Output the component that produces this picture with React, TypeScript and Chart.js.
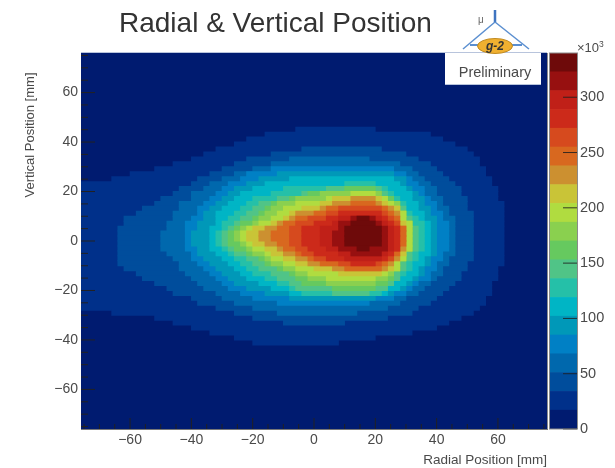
import React, { useEffect, useRef } from "react";
import { Chart, registerables } from "chart.js";

Chart.register(...registerables);

const BAND_COLORS = ["#001b70","#00308a","#004d9c","#0068ad","#0080c5","#0098b8","#00b5c5","#25c0a8","#50c487","#66c95f","#8ad04f","#b0dc40","#c9c437","#cc9030","#d8681f","#d64a1e","#cc2a1a","#c02018","#971010","#6e0a0a"];
const BAND_EDGES = [0,17,34,51,68,85,102,119,136,153,170,187,204,221,238,255,272,289,306,323,340];
const X_MAJOR = [-60,-40,-20,0,20,40,60];
const X_MINOR = [-75,-70,-65,-55,-50,-45,-35,-30,-25,-15,-10,-5,5,10,15,25,30,35,45,50,55,65,70,75];
const Y_MAJOR = [-60,-40,-20,0,20,40,60];
const Y_MINOR = [-75,-70,-65,-55,-50,-45,-35,-30,-25,-15,-10,-5,5,10,15,25,30,35,45,50,55,65,70,75];
const Z_TICKS = [0,50,100,150,200,250,300];

// lower edge (mm) of each 2 mm row that holds counts above the lowest band
const ROW_Y = [44,42,40,38,36,34,32,30,28,26,24,22,20,18,16,14,12,10,8,6,4,2,0,-2,-4,-6,-8,-10,-12,-14,-16,-18,-20,-22,-24,-26,-28,-30,-32,-34,-36,-38,-40,-42];
// for each row: left edge (mm) where band 1, 2, 3... begins
const LEFT_EDGES = [
[-6],[-16],[-22],[-26],[-32,-4],[-36,-14],[-40,-22,-8],[-46,-26,-14],[-52,-30,-20,-14],[-60,-34,-26,-22,-12],
[-66,-38,-30,-24,-18,-8],[-76,-40,-34,-28,-22,-16,10],[-76,-44,-36,-30,-26,-20,-10,4,10],
[-76,-46,-40,-32,-28,-24,-14,-4,-2,2,12],[-76,-50,-40,-34,-30,-26,-20,-12,-8,-6,4,6,12],
[-76,-52,-44,-36,-32,-28,-22,-18,-14,-12,-6,2,6,12],[-76,-56,-44,-38,-34,-30,-24,-20,-16,-14,-10,-4,2,4,8],
[-76,-58,-46,-38,-36,-32,-26,-22,-18,-16,-12,-8,-6,0,4,8],[-76,-62,-46,-40,-36,-32,-28,-24,-20,-18,-14,-10,-8,-6,-2,4,8,12,14],
[-76,-62,-48,-42,-38,-32,-30,-26,-24,-20,-18,-14,-12,-10,-6,0,6,8,12],[-76,-64,-48,-42,-38,-34,-30,-28,-26,-24,-22,-20,-16,-12,-8,-4,2,8,10],
[-76,-64,-50,-42,-40,-34,-32,-30,-28,-26,-24,-22,-18,-14,-8,-4,2,6,10],[-76,-64,-50,-42,-40,-34,-32,-30,-28,-26,-24,-22,-18,-14,-8,-4,2,6,10],
[-76,-64,-50,-42,-40,-34,-32,-30,-28,-24,-22,-20,-16,-12,-8,-4,2,6,10],[-76,-64,-50,-42,-38,-34,-30,-28,-26,-22,-20,-16,-12,-10,-6,-2,4,8,14],
[-76,-64,-48,-40,-38,-32,-28,-26,-22,-20,-16,-14,-10,-6,-4,0,8,12],[-76,-64,-46,-40,-36,-30,-26,-22,-18,-16,-14,-10,-6,-2,0,4,10],
[-76,-64,-44,-38,-34,-28,-24,-20,-16,-14,-10,-6,-2,2,8,12],[-76,-62,-44,-36,-32,-26,-22,-18,-12,-10,-6,0,6,10],
[-76,-58,-42,-34,-30,-24,-20,-14,-8,-6,-2,8],[-76,-56,-40,-32,-28,-22,-16,-12,-6,-2,4],[-76,-52,-38,-30,-26,-18,-12,-8,-4,4],
[-76,-48,-36,-28,-22,-14,-8,-6,6],[-76,-46,-32,-24,-16,-8,-4,6],[-76,-40,-30,-20,-8],[-76,-38,-26,-12],[-76,-32,-20],[-66,-26,-12],
[-52,-20],[-46,-10],[-40],[-34],[-26],[-20],
];
// for each row: right edge (mm) where band 1, 2, 3... ends
const RIGHT_EDGES = [
[20],[38],[42],[46],[50,22],[52,30],[54,34,18],[54,38,28],[56,40,32,26],[56,42,34,30,26],
[58,44,36,32,30,26],[58,46,38,34,30,28,20],[60,48,40,36,32,30,24,22,20],
[60,48,40,36,34,32,26,24,22,22,20],[60,50,42,38,36,32,28,26,26,24,24,22,20],
[62,50,42,40,36,34,30,28,28,28,26,24,22,20],[62,50,44,40,38,34,30,30,28,28,28,28,26,24,22],
[62,52,44,42,38,36,32,30,30,30,30,28,28,26,24,22],[62,52,46,42,40,36,34,32,30,30,30,28,28,28,26,24,22,20,18],
[62,52,46,44,40,38,36,32,32,32,32,30,28,28,28,26,24,22,20],[62,52,46,44,40,38,36,34,32,32,32,30,30,30,28,28,26,24,22],
[62,52,46,44,40,38,36,34,32,32,32,30,30,30,28,28,26,24,22],[62,52,46,44,40,38,36,34,32,32,32,30,30,30,28,28,26,24,22],
[62,52,46,44,40,38,36,34,32,32,32,30,30,30,28,28,26,24,22],[62,52,46,44,40,38,36,34,32,32,32,30,30,28,28,28,26,24,18],
[62,52,46,42,40,38,34,32,30,30,30,30,28,28,26,26,24,22],[62,52,44,42,38,36,34,32,30,30,30,28,28,26,26,24,22],
[62,50,44,40,38,36,32,30,28,28,28,26,26,24,22,20],[60,50,42,40,36,34,32,30,28,28,28,26,24,22],
[60,48,42,38,36,34,30,28,26,26,24,22],[60,48,40,38,34,32,28,28,26,24,20],[58,46,38,34,32,30,26,26,24,20],
[58,44,36,32,30,28,24,24,20],[58,42,34,30,26,24,22,18],[56,40,30,26,20],[56,38,28,18],[54,34,24],[52,32,14],
[48,24],[44,10],[40],[32],[20],[8],
];

const FONT = "'Liberation Sans', Arial, sans-serif";
const TEXT = "#4a4a4a";

const innerTicks = {
  id: "innerTicks",
  afterDatasetsDraw(chart: any) {
    const { ctx, chartArea: a, scales } = chart;
    ctx.save();
    ctx.strokeStyle = "#222";
    ctx.lineWidth = 1;
    const line = (x0: number, y0: number, x1: number, y1: number) => {
      ctx.beginPath(); ctx.moveTo(x0, y0); ctx.lineTo(x1, y1); ctx.stroke();
    };
    X_MAJOR.forEach((v) => { const p = scales.x.getPixelForValue(v); line(p, a.bottom, p, a.bottom - 11); });
    X_MINOR.forEach((v) => { const p = scales.x.getPixelForValue(v); line(p, a.bottom, p, a.bottom - 5); });
    Y_MAJOR.forEach((v) => { const p = scales.y.getPixelForValue(v); line(a.left, p, a.left + 14, p); });
    Y_MINOR.forEach((v) => { const p = scales.y.getPixelForValue(v); line(a.left, p, a.left + 7, p); });
    ctx.strokeStyle = "#8a8a8a";
    line(a.right + 0.5, a.top, a.right + 0.5, a.bottom);
    ctx.strokeStyle = "#b8c4dc";
    line(a.left, a.top - 0.5, a.right, a.top - 0.5);
    // vertical axis title, which sits off-centre along the axis
    ctx.translate(30, 135);
    ctx.rotate(-Math.PI / 2);
    ctx.font = `13px ${FONT}`;
    ctx.fillStyle = TEXT;
    ctx.textAlign = "center";
    ctx.textBaseline = "middle";
    ctx.fillText("Vertical Position [mm]", 0, 0);
    ctx.restore();
  },
};

const paletteTicks = {
  id: "paletteTicks",
  afterDatasetsDraw(chart: any) {
    const { ctx, chartArea: a, scales } = chart;
    ctx.save();
    ctx.strokeStyle = "rgba(30,30,30,0.85)";
    Z_TICKS.forEach((v) => {
      const p = scales.y.getPixelForValue(v);
      ctx.beginPath(); ctx.moveTo(a.right, p); ctx.lineTo(a.right - 14, p); ctx.stroke();
    });
    ctx.strokeStyle = "#8a8a8a";
    ctx.strokeRect(a.left - 0.5, a.top, a.right - a.left + 1, a.bottom - a.top);
    ctx.restore();
  },
};

const tickFont = { family: FONT, size: 14 };
const minus = (v: any) => (Number(v) < 0 ? "\u2212" + Math.abs(Number(v)) : String(v));

export default function App() {
  const mainRef = useRef<HTMLCanvasElement>(null);
  const barRef = useRef<HTMLCanvasElement>(null);

  useEffect(() => {
    document.body.style.margin = "0";
    const datasets: any[] = [
      { data: [{ y: 0, x: [-76, 76] }], backgroundColor: BAND_COLORS[0], barThickness: 376, order: 20 },
    ];
    for (let k = 1; k < BAND_COLORS.length; k++) {
      const data: any[] = [];
      ROW_Y.forEach((y, r) => {
        if (LEFT_EDGES[r].length >= k) data.push({ y: y + 1, x: [LEFT_EDGES[r][k - 1], RIGHT_EDGES[r][k - 1]] });
      });
      datasets.push({ data, backgroundColor: BAND_COLORS[k], barThickness: 5.3, order: 20 - k });
    }
    const main = new Chart(mainRef.current!, {
      type: "bar",
      data: { datasets },
      plugins: [innerTicks],
      options: {
        animation: false,
        responsive: false,
        indexAxis: "y",
        datasets: { bar: { grouped: false } },
        layout: { padding: { top: 53, right: 68, left: 0, bottom: 0 } },
        plugins: { legend: { display: false }, tooltip: { enabled: false } },
        scales: {
          x: {
            type: "linear", min: -76, max: 76,
            grid: { display: false, drawTicks: false },
            border: { color: "#777" },
            afterBuildTicks: (s: any) => { s.ticks = X_MAJOR.map((value) => ({ value })); },
            afterFit: (s: any) => { s.height = 39; },
            ticks: { color: TEXT, font: tickFont, maxRotation: 0, autoSkip: false, padding: 3, callback: minus },
            title: { display: true, text: "Radial Position [mm]", align: "end", color: TEXT, font: { family: FONT, size: 13.5 }, padding: { top: 0, bottom: 0 } },
          },
          y: {
            type: "linear", min: -76, max: 76, offset: false,
            grid: { display: false, drawTicks: false, offset: false },
            border: { color: "#777" },
            afterBuildTicks: (s: any) => { s.ticks = Y_MAJOR.map((value) => ({ value })); },
            afterFit: (s: any) => { s.width = 81; },
            ticks: { color: TEXT, font: tickFont, autoSkip: false, padding: 3, callback: minus },
          },
        },
      } as any,
    });

    const bandSets = BAND_COLORS.map((c, i) => ({
      data: [[BAND_EDGES[i], BAND_EDGES[i + 1]]],
      backgroundColor: c,
      barPercentage: 1,
      categoryPercentage: 1,
    }));
    const bar = new Chart(barRef.current!, {
      type: "bar",
      data: { labels: ["count"], datasets: bandSets as any },
      plugins: [paletteTicks],
      options: {
        animation: false,
        responsive: false,
        datasets: { bar: { grouped: false } },
        layout: { padding: { top: 53, left: 5, right: 0, bottom: 39 } },
        plugins: { legend: { display: false }, tooltip: { enabled: false } },
        scales: {
          x: { display: false },
          y: {
            position: "right", min: 0, max: 340,
            grid: { display: false, drawTicks: false },
            border: { display: false },
            afterBuildTicks: (s: any) => { s.ticks = Z_TICKS.map((value) => ({ value })); },
            afterFit: (s: any) => { s.width = 38; },
            ticks: { color: TEXT, font: { family: FONT, size: 14.5 }, autoSkip: false, padding: 3 },
          },
        },
      } as any,
    });
    return () => { main.destroy(); bar.destroy(); };
  }, []);

  return (
    <div style={{ position: "absolute", left: 0, top: 0, width: 615, height: 468, overflow: "hidden", background: "#fff", filter: "blur(0.7px)", fontFamily: FONT }}>
      <canvas ref={mainRef} width={615} height={468} style={{ position: "absolute", left: 0, top: 0 }} />
      <canvas ref={barRef} width={70} height={468} style={{ position: "absolute", left: 545, top: 0 }} />
      <div style={{ position: "absolute", left: 119, top: 7, fontSize: 28, lineHeight: "32px", color: "#333", whiteSpace: "nowrap" }}>Radial &amp; Vertical Position</div>
      <div style={{ position: "absolute", left: 445, top: 53, width: 96, height: 31, background: "#fff", borderBottom: "1px solid #b8c4dc" }} />
      <div style={{ position: "absolute", left: 445, top: 64, width: 100, textAlign: "center", fontSize: 14.5, lineHeight: "16px", color: TEXT }}>Preliminary</div>
      <svg width={90} height={56} style={{ position: "absolute", left: 450, top: 4 }}>
        <line x1={45} y1={6} x2={45} y2={18} stroke="#3f74c0" strokeWidth={2.5} />
        <line x1={45} y1={18} x2={13} y2={45} stroke="#5b8fd0" strokeWidth={1.5} />
        <line x1={45} y1={18} x2={79} y2={45} stroke="#5b8fd0" strokeWidth={1.5} />
        <line x1={20} y1={41} x2={72} y2={41} stroke="#5b8fd0" strokeWidth={2} />
        <ellipse cx={45} cy={42} rx={17.5} ry={7.5} fill="#f0b030" stroke="#c08a20" />
        <text x={45} y={46} textAnchor="middle" fontSize={12} fontWeight="bold" fontStyle="italic" fontFamily={FONT} fill="#333">g-2</text>
        <text x={31} y={19} textAnchor="middle" fontSize={10} fontFamily={FONT} fill="#666">μ</text>
      </svg>
      <div style={{ position: "absolute", left: 577, top: 41, fontSize: 13, lineHeight: "14px", color: TEXT, whiteSpace: "nowrap" }}>×10<sup style={{ fontSize: 8.5, lineHeight: 0 }}>3</sup></div>
    </div>
  );
}
